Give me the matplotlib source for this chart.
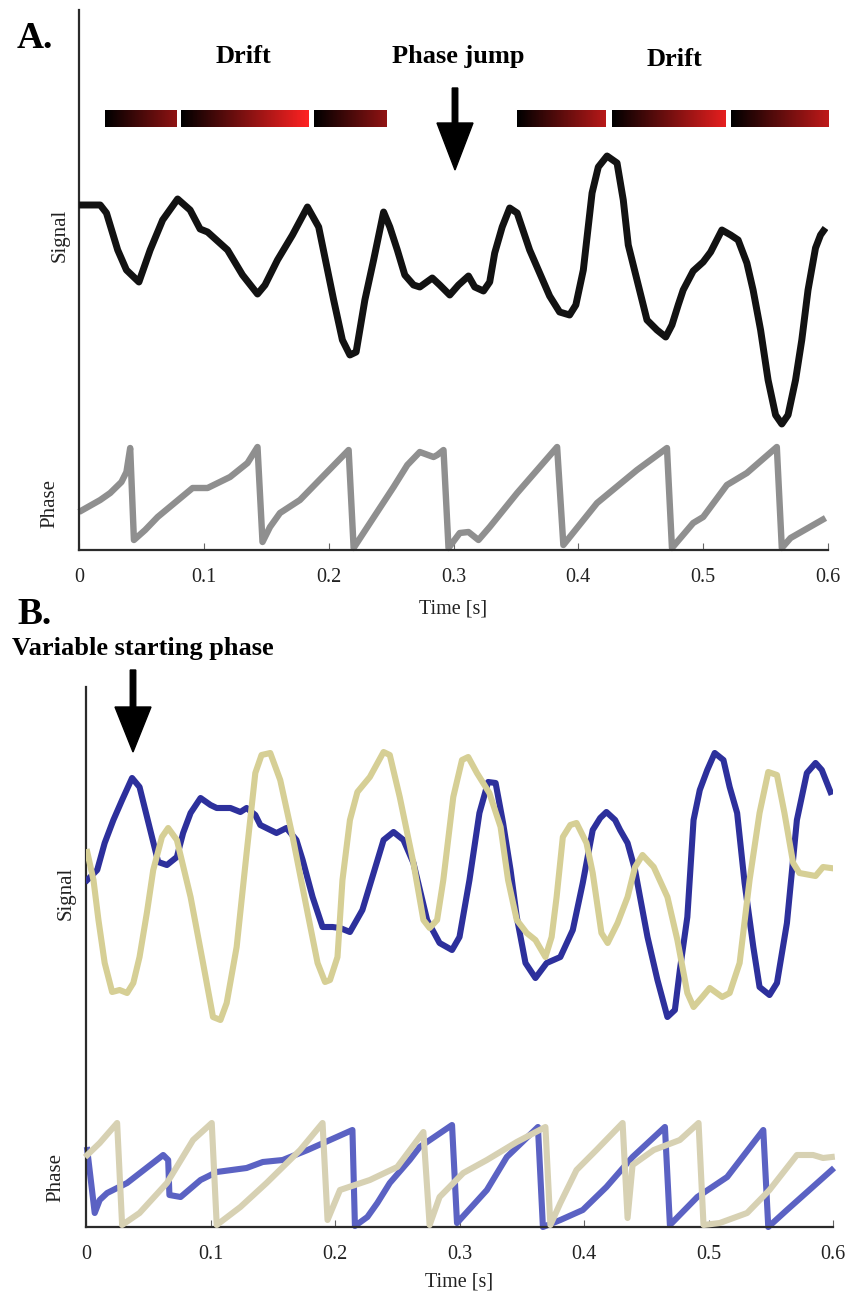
import numpy as np
import matplotlib
matplotlib.use("Agg")
import matplotlib.pyplot as plt
from matplotlib.colors import LinearSegmentedColormap
from matplotlib.patches import FancyArrow

plt.rcParams['font.family'] = ['Liberation Serif', 'DejaVu Serif']

# ---------------- Panel A: single trial with drift and a phase jump ----------------
t_a_sig = [0.000, 0.017, 0.022, 0.031, 0.038, 0.048, 0.057, 0.067, 0.079, 0.089,
           0.097, 0.103, 0.119, 0.131, 0.143, 0.149, 0.159, 0.171, 0.183, 0.192,
           0.204, 0.211, 0.217, 0.222, 0.229, 0.236, 0.244, 0.249, 0.255, 0.261,
           0.268, 0.273, 0.283, 0.289, 0.297, 0.304, 0.312, 0.317, 0.324, 0.329,
           0.333, 0.339, 0.345, 0.351, 0.361, 0.369, 0.377, 0.385, 0.393, 0.398,
           0.404, 0.411, 0.416, 0.423, 0.431, 0.436, 0.440, 0.447, 0.455, 0.463,
           0.470, 0.475, 0.480, 0.484, 0.492, 0.500, 0.506, 0.515, 0.522, 0.528,
           0.535, 0.540, 0.546, 0.552, 0.558, 0.563, 0.568, 0.574, 0.579, 0.584,
           0.590, 0.594, 0.598]
sig_a = [34.5, 34.5, 33.7, 30.0, 28.0, 26.8, 30.0, 33.0, 35.1, 34.0,
         32.1, 31.8, 30.0, 27.5, 25.6, 26.5, 29.0, 31.5, 34.3, 32.3,
         25.0, 21.0, 19.5, 19.8, 25.0, 29.0, 33.8, 32.3, 30.0, 27.5,
         26.5, 26.3, 27.2, 26.5, 25.5, 26.5, 27.4, 26.3, 25.9, 26.8,
         29.7, 32.3, 34.2, 33.7, 30.0, 27.7, 25.4, 23.8, 23.5, 24.5,
         28.0, 35.7, 38.3, 39.4, 38.7, 35.0, 30.5, 27.0, 23.0, 22.0,
         21.3, 22.5, 24.5, 26.0, 27.9, 28.8, 29.8, 32.0, 31.5, 31.0,
         28.7, 26.0, 22.0, 17.0, 13.5, 12.6, 13.5, 17.0, 21.0, 26.0,
         30.2, 31.5, 32.2]

t_a_ph = [0.000, 0.017, 0.025, 0.034, 0.038, 0.041, 0.044, 0.053, 0.063, 0.091,
          0.103, 0.121, 0.135, 0.143, 0.147, 0.153, 0.161, 0.177, 0.216, 0.220,
          0.231, 0.252, 0.263, 0.273, 0.284, 0.287, 0.292, 0.296, 0.305, 0.312,
          0.320, 0.329, 0.351, 0.367, 0.383, 0.388, 0.415, 0.447, 0.471, 0.475,
          0.492, 0.500, 0.519, 0.535, 0.559, 0.563, 0.570, 0.598]
ph_a = [3.8, 5.0, 5.7, 6.8, 7.8, 10.2, 1.0, 2.0, 3.3, 6.2,
        6.2, 7.3, 8.7, 10.3, 0.8, 2.3, 3.7, 5.0, 10.0, 0.2,
        2.3, 6.3, 8.5, 9.8, 9.3, 9.5, 10.0, 0.2, 1.7, 1.8,
        1.0, 2.3, 5.7, 8.0, 10.3, 0.5, 4.7, 8.0, 10.2, 0.2,
        2.7, 3.3, 6.5, 7.7, 10.3, 0.2, 1.2, 3.2]

# drift intervals (start, end) and the bar levels
drift_start = [0.021, 0.082, 0.188, 0.351, 0.427, 0.522]
drift_end = [0.078, 0.184, 0.246, 0.422, 0.518, 0.601]
drift_amount = [0.56, 1.00, 0.57, 0.72, 0.90, 0.76]

# ---------------- Panel B: two trials with different starting phase ----------------
t_b1_sig = [0.001, 0.009, 0.015, 0.022, 0.029, 0.037, 0.043, 0.049, 0.058, 0.065,
            0.073, 0.078, 0.084, 0.092, 0.100, 0.105, 0.116, 0.124, 0.129, 0.136,
            0.140, 0.153, 0.161, 0.169, 0.174, 0.182, 0.190, 0.198, 0.204, 0.212,
            0.222, 0.231, 0.239, 0.247, 0.255, 0.263, 0.274, 0.284, 0.294, 0.300,
            0.308, 0.316, 0.323, 0.329, 0.335, 0.341, 0.346, 0.353, 0.361, 0.370,
            0.381, 0.391, 0.399, 0.407, 0.413, 0.418, 0.425, 0.429, 0.435, 0.441,
            0.445, 0.451, 0.459, 0.467, 0.473, 0.477, 0.483, 0.488, 0.493, 0.499,
            0.505, 0.512, 0.517, 0.523, 0.529, 0.536, 0.541, 0.549, 0.555, 0.563,
            0.571, 0.579, 0.586, 0.591, 0.598]
sig_b1 = [34.7, 35.7, 38.4, 40.7, 42.7, 44.9, 44.0, 41.0, 36.5, 36.2,
          37.0, 39.4, 41.4, 42.9, 42.2, 41.9, 41.9, 41.5, 41.9, 41.2,
          40.2, 39.4, 39.9, 38.7, 36.7, 33.0, 30.0, 30.0, 29.9, 29.5,
          31.7, 35.4, 38.7, 39.5, 38.7, 36.4, 30.7, 28.4, 27.7, 29.0,
          34.7, 41.4, 44.5, 44.4, 40.4, 35.7, 31.0, 26.4, 24.9, 26.4,
          27.0, 29.7, 34.4, 39.7, 40.9, 41.5, 40.7, 39.7, 38.4, 35.7,
          33.0, 29.0, 24.7, 21.0, 21.7, 25.7, 31.0, 40.7, 43.7, 45.7,
          47.4, 46.7, 44.0, 41.4, 34.4, 28.0, 24.0, 23.2, 24.4, 30.4,
          40.7, 45.4, 46.4, 45.7, 43.5]

t_b2_sig = [0.001, 0.006, 0.010, 0.015, 0.021, 0.027, 0.033, 0.038, 0.043, 0.049,
            0.054, 0.061, 0.066, 0.073, 0.084, 0.094, 0.102, 0.108, 0.113, 0.121,
            0.129, 0.136, 0.141, 0.148, 0.156, 0.166, 0.178, 0.186, 0.192, 0.196,
            0.202, 0.206, 0.212, 0.218, 0.228, 0.239, 0.244, 0.252, 0.263, 0.271,
            0.276, 0.282, 0.287, 0.295, 0.302, 0.307, 0.314, 0.324, 0.333, 0.339,
            0.346, 0.354, 0.361, 0.369, 0.374, 0.378, 0.383, 0.389, 0.394, 0.402,
            0.407, 0.414, 0.419, 0.427, 0.435, 0.441, 0.447, 0.456, 0.467, 0.475,
            0.483, 0.488, 0.495, 0.501, 0.511, 0.517, 0.525, 0.533, 0.541, 0.548,
            0.555, 0.561, 0.568, 0.573, 0.586, 0.592, 0.598]
sig_b2 = [37.5, 34.7, 30.7, 26.4, 23.5, 23.7, 23.4, 24.4, 27.0, 31.5,
          35.7, 39.0, 39.9, 38.7, 33.0, 26.4, 21.0, 20.7, 22.4, 28.0,
          37.4, 45.4, 47.2, 47.4, 44.7, 39.0, 31.4, 26.4, 24.5, 24.7,
          27.0, 34.7, 40.7, 43.5, 45.0, 47.5, 47.2, 43.0, 36.4, 30.7,
          29.9, 30.7, 34.7, 43.0, 46.7, 47.0, 45.4, 43.4, 40.0, 34.7,
          30.7, 29.4, 28.7, 27.0, 29.0, 33.0, 39.0, 40.2, 40.4, 38.4,
          35.4, 29.4, 28.4, 30.4, 33.0, 36.0, 37.2, 36.0, 33.0, 28.7,
          23.4, 22.0, 23.0, 23.9, 23.0, 23.4, 26.4, 34.7, 41.4, 45.5,
          45.2, 41.4, 36.4, 35.4, 35.1, 36.0, 35.9]

t_b1_ph = [0.001, 0.007, 0.011, 0.017, 0.033, 0.062, 0.066, 0.067, 0.076, 0.092,
           0.105, 0.129, 0.142, 0.158, 0.178, 0.196, 0.214, 0.216, 0.226, 0.234,
           0.244, 0.260, 0.268, 0.294, 0.298, 0.322, 0.338, 0.363, 0.367, 0.381,
           0.399, 0.418, 0.439, 0.465, 0.469, 0.491, 0.515, 0.544, 0.548, 0.563,
           0.590, 0.599]
ph_b1 = [7.7, 1.4, 2.7, 3.4, 4.4, 7.2, 6.7, 3.2, 3.0, 4.7,
         5.5, 5.9, 6.5, 6.7, 7.7, 8.7, 9.7, 0.1, 1.0, 2.4,
         4.4, 6.7, 8.0, 10.2, 0.4, 3.7, 7.0, 10.0, 0.0, 0.7,
         1.7, 4.0, 7.0, 10.0, 0.2, 3.0, 5.0, 9.7, 0.0, 1.7,
         4.7, 5.7]

t_b2_ph = [0.001, 0.011, 0.025, 0.029, 0.043, 0.065, 0.086, 0.101, 0.105, 0.124,
           0.145, 0.172, 0.190, 0.194, 0.204, 0.228, 0.250, 0.271, 0.276, 0.284,
           0.303, 0.322, 0.346, 0.369, 0.373, 0.381, 0.394, 0.410, 0.431, 0.435,
           0.439, 0.456, 0.477, 0.492, 0.496, 0.509, 0.531, 0.549, 0.571, 0.584,
           0.592, 0.599]
ph_b2 = [7.2, 8.4, 10.4, 0.2, 1.4, 4.4, 8.7, 10.4, 0.2, 2.0,
         4.4, 7.7, 10.4, 0.7, 3.7, 4.7, 6.0, 9.5, 0.2, 3.0,
         5.4, 6.7, 8.5, 10.0, 0.2, 2.4, 5.7, 7.7, 10.4, 0.9,
         6.2, 7.7, 8.7, 10.4, 0.2, 0.4, 1.4, 3.7, 7.2, 7.2,
         6.9, 7.0]

x_ticks = [0, 0.1, 0.2, 0.3, 0.4, 0.5, 0.6]
x_ticklabels = ['0', '0.1', '0.2', '0.3', '0.4', '0.5', '0.6']

W, H = 846, 1294
fig = plt.figure(figsize=(W / 100, H / 100), dpi=100)


def px_axes(x0, y0, x1, y1):
    return fig.add_axes([x0 / W, 1 - y1 / H, (x1 - x0) / W, (y1 - y0) / H])


def style_axes(ax, labelpad):
    ax.set_xlim(0, 0.6)
    ax.set_ylim(0, 54)
    for s in ['top', 'right']:
        ax.spines[s].set_visible(False)
    for s in ['left', 'bottom']:
        ax.spines[s].set_linewidth(1.6)
        ax.spines[s].set_color('#2b2b2b')
    ax.set_yticks([])
    ax.set_xticks(x_ticks)
    ax.set_xticklabels(x_ticklabels)
    ax.tick_params(axis='x', direction='in', length=5, width=0.8, color='#666666',
                   labelsize=14.5, pad=13, labelcolor='#222222')
    ax.set_xlabel('Time [s]', fontsize=14.5, labelpad=labelpad, color='#222222')


# ---- Panel A ----
axA = px_axes(79, 10, 828, 550)
axA.plot(t_a_ph, ph_a, color='#8f8f8f', lw=4.6, solid_joinstyle='round',
         solid_capstyle='butt', clip_on=False, zorder=2)
axA.plot(t_a_sig, sig_a, color='#121212', lw=5.0, solid_joinstyle='round',
         solid_capstyle='butt', zorder=3)
drift_cmap = LinearSegmentedColormap.from_list('drift', ['#000000', '#ff2222'])
for s, e, a in zip(drift_start, drift_end, drift_amount):
    grad = np.linspace(0, a, 200).reshape(1, -1)
    axA.imshow(grad, cmap=drift_cmap, vmin=0, vmax=1, aspect='auto',
               extent=[s, e, 42.3, 44.0], interpolation='bilinear', zorder=4)
style_axes(axA, 9)

# ---- Panel B ----
axB = px_axes(86, 687, 833, 1227)
axB.plot(t_b1_ph, ph_b1, color='#5b62c3', lw=4.4, solid_joinstyle='round',
         clip_on=False, zorder=2)
axB.plot(t_b2_ph, ph_b2, color='#d7d1b3', lw=4.4, solid_joinstyle='round',
         clip_on=False, zorder=3)
axB.plot(t_b1_sig, sig_b1, color='#2d309c', lw=4.4, solid_joinstyle='round', zorder=4)
axB.plot(t_b2_sig, sig_b2, color='#d6cf95', lw=4.4, solid_joinstyle='round', zorder=5)
style_axes(axB, 6)


def ftext(x, y, s, **kw):
    fig.text(x / W, 1 - y / H, s, **kw)


# panel letters and annotations
ftext(17, 48, 'A.', fontsize=27, fontweight='bold', va='baseline', ha='left')
ftext(17, 624, 'B.', fontsize=27, fontweight='bold', va='baseline', ha='left')
ftext(243, 63, 'Drift', fontsize=19, fontweight='bold', va='baseline', ha='center')
ftext(458, 63, 'Phase jump', fontsize=19, fontweight='bold', va='baseline', ha='center')
ftext(674, 66, 'Drift', fontsize=19, fontweight='bold', va='baseline', ha='center')
ftext(12, 655, 'Variable starting phase', fontsize=19, fontweight='bold',
      va='baseline', ha='left')

ftext(60, 235, 'Signal', fontsize=15, rotation=90, va='center', ha='center', color='#222222')
ftext(50, 504, 'Phase', fontsize=15, rotation=90, va='center', ha='center', color='#222222')
ftext(66, 893, 'Signal', fontsize=15, rotation=90, va='center', ha='center', color='#222222')
ftext(56, 1178, 'Phase', fontsize=15, rotation=90, va='center', ha='center', color='#222222')


def down_arrow(x, y_top, y_tip, head_len):
    fig.add_artist(FancyArrow(x / 100, (H - y_top) / 100, 0, -(y_tip - y_top) / 100,
                              width=0.055, head_width=0.36, head_length=head_len / 100,
                              length_includes_head=True, color='black',
                              transform=fig.dpi_scale_trans))


down_arrow(455, 88, 170, 47)
down_arrow(133, 670, 752, 45)

fig.savefig('out.png', dpi=100, facecolor='white')
